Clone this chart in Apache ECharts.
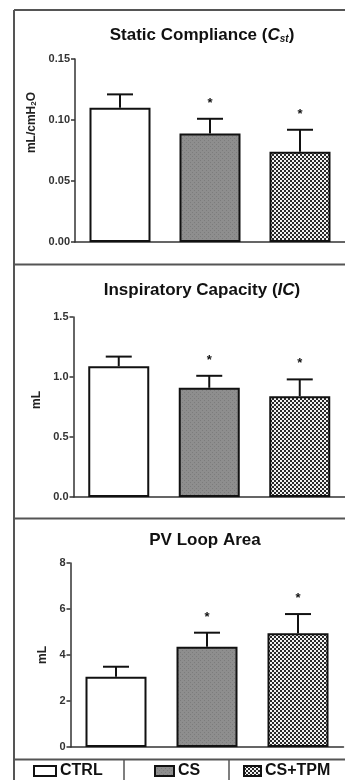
<!DOCTYPE html>
<html>
<head>
<meta charset="utf-8">
<script src="https://cdn.jsdelivr.net/npm/echarts@6/dist/echarts.min.js"></script>
<style>
  html, body { margin: 0; padding: 0; background: #fff; }
  #chart { width: 345px; height: 780px; }
</style>
</head>
<body>
<div id="chart"></div>
<script>
const categories = ['CTRL', 'CS', 'CS+TPM']
const cstMean = [0.110, 0.089, 0.074]
const cstErr = [0.011, 0.012, 0.018]
const icMean = [1.09, 0.91, 0.84]
const icErr = [0.08, 0.10, 0.14]
const pvMean = [3.05, 4.36, 4.95]
const pvErr = [0.44, 0.61, 0.83]
const sigMarks = ['', '*', '*']
const cstTicks = [0, 0.15, 0.05]
const icTicks = [0, 1.5, 0.5]
const pvTicks = [0, 8, 2]

const font = "'Liberation Sans', Arial, sans-serif"
const ink = '#111'
const lineGray = '#555'

// fill patterns for the CS and CS+TPM bars
const makeTile = (size, draw) => {
  const c = document.createElement('canvas')
  c.width = size
  c.height = size
  draw(c.getContext('2d'))
  return c
}
const csTile = makeTile(4, ctx => {
  ctx.fillStyle = '#8e8e8e'
  ctx.fillRect(0, 0, 4, 4)
  ctx.fillStyle = '#7c7c7c'
  ctx.fillRect(0, 0, 1, 1)
  ctx.fillRect(2, 2, 1, 1)
})
const tpmTile = makeTile(4, ctx => {
  ctx.fillStyle = '#2a2a2a'
  ctx.fillRect(0, 0, 4, 4)
  ctx.fillStyle = '#f2f2f2'
  ctx.fillRect(0, 0, 2, 2)
  ctx.fillRect(2, 2, 2, 2)
})
const fills = ['#ffffff', { image: csTile, repeat: 'repeat' }, { image: tpmTile, repeat: 'repeat' }]

const panels = [
  { mean: cstMean, err: cstErr, ticks: cstTicks, digits: 2, left: 75, top: 59, height: 183,
    yName: 'mL/cmH{s|2}O', nameGap: 37, nameShift: 56 },
  { mean: icMean, err: icErr, ticks: icTicks, digits: 1, left: 73.5, top: 317, height: 180,
    yName: 'mL', nameGap: 30, nameShift: 14 },
  { mean: pvMean, err: pvErr, ticks: pvTicks, digits: 0, left: 70.5, top: 563, height: 184,
    yName: 'mL', nameGap: 20, nameShift: 0 }
]

const chart = echarts.init(document.getElementById('chart'))

const series = []
panels.forEach((p, gi) => {
  categories.forEach((name, ci) => {
    series.push({
      name,
      type: 'bar',
      xAxisIndex: gi,
      yAxisIndex: gi,
      stack: 'g' + gi,
      barWidth: 61,
      itemStyle: { color: fills[ci], borderColor: ink, borderWidth: 2 },
      data: categories.map((c, k) => (k === ci ? p.mean[k] : '-'))
    })
  })
  series.push({
    type: 'custom',
    xAxisIndex: gi,
    yAxisIndex: gi,
    z: 5,
    clip: false,
    data: categories.map((c, k) => [k, p.mean[k], p.err[k]]),
    renderItem: (params, api) => {
      const k = api.value(0)
      const m = api.value(1)
      const e = api.value(2)
      const base = api.coord([k, m])
      const top = api.coord([k, m + e])
      const style = { stroke: ink, lineWidth: 2 }
      const children = [
        { type: 'line', shape: { x1: base[0], y1: base[1], x2: top[0], y2: top[1] }, style },
        { type: 'line', shape: { x1: top[0] - 13, y1: top[1], x2: top[0] + 13, y2: top[1] }, style }
      ]
      if (sigMarks[params.dataIndex]) {
        children.push({
          type: 'text',
          style: {
            text: sigMarks[params.dataIndex], x: top[0], y: top[1] - 9,
            align: 'center', verticalAlign: 'bottom',
            font: 'bold 13px ' + font, fill: ink
          }
        })
      }
      return { type: 'group', children }
    }
  })
})

const legendCells = [
  { name: 'CTRL', left: 33, icon: 22 },
  { name: 'CS', left: 154, icon: 19 },
  { name: 'CS+TPM', left: 243, icon: 17 }
]

chart.setOption({
  animation: false,
  backgroundColor: '#fff',
  title: [
    { text: '{b|Static Compliance (}{i|C}{s|st}{b|)}', left: 197, top: 21 },
    { text: '{b|Inspiratory Capacity (}{i|IC}{b|)}', left: 197, top: 277 },
    { text: '{b|PV Loop Area}', left: 200, top: 527 }
  ].map(t => ({
    ...t,
    textAlign: 'center',
    textStyle: {
      rich: {
        b: { fontFamily: font, fontWeight: 'bold', fontSize: 17, color: ink },
        i: { fontFamily: font, fontWeight: 'bold', fontStyle: 'italic', fontSize: 17, color: ink },
        s: { fontFamily: font, fontWeight: 'bold', fontStyle: 'italic', fontSize: 10, color: ink, padding: [8, 0, 0, 0] }
      }
    }
  })),
  legend: legendCells.map(c => ({
    data: [c.name],
    left: c.left,
    top: 763,
    padding: 0,
    itemWidth: c.icon,
    itemHeight: 10,
    itemGap: 0,
    icon: 'rect',
    selectedMode: false,
    textStyle: { fontFamily: font, fontWeight: 'bold', fontSize: 16, color: ink, padding: [0, 0, 0, -1] }
  })),
  grid: panels.map(p => ({ left: p.left, top: p.top, height: p.height, width: 273 })),
  xAxis: panels.map((p, gi) => ({
    type: 'category',
    gridIndex: gi,
    data: categories,
    axisTick: { show: false },
    axisLabel: { show: false },
    axisLine: { lineStyle: { color: '#333', width: 1.5 } }
  })),
  yAxis: panels.map((p, gi) => ({
    type: 'value',
    gridIndex: gi,
    min: p.ticks[0],
    max: p.ticks[1],
    interval: p.ticks[2],
    name: p.yName,
    nameLocation: 'middle',
    nameGap: p.nameGap,
    nameRotate: 90,
    nameTextStyle: {
      fontFamily: font, fontWeight: 'bold', fontSize: 12, color: '#222',
      padding: [0, 0, 0, p.nameShift],
      rich: { s: { fontFamily: font, fontWeight: 'bold', fontSize: 8, color: '#222', padding: [5, 0, 0, 0] } }
    },
    splitLine: { show: false },
    axisLine: { show: true, lineStyle: { color: '#333', width: 1.5 } },
    axisTick: { show: true, length: 4, lineStyle: { color: '#333', width: 1.5 } },
    axisLabel: {
      margin: 5,
      fontFamily: font, fontWeight: 'bold', fontSize: 11, color: '#333',
      formatter: v => v.toFixed(p.digits)
    }
  })),
  graphic: [
    { type: 'line', shape: { x1: 14, y1: 10, x2: 14, y2: 780 }, style: { stroke: lineGray, lineWidth: 2 } },
    { type: 'line', shape: { x1: 14, y1: 10, x2: 345, y2: 10 }, style: { stroke: lineGray, lineWidth: 2 } },
    { type: 'line', shape: { x1: 14, y1: 264.5, x2: 345, y2: 264.5 }, style: { stroke: lineGray, lineWidth: 2 } },
    { type: 'line', shape: { x1: 14, y1: 518.5, x2: 345, y2: 518.5 }, style: { stroke: lineGray, lineWidth: 2 } },
    { type: 'line', shape: { x1: 14, y1: 759.5, x2: 345, y2: 759.5 }, style: { stroke: lineGray, lineWidth: 2 } },
    { type: 'line', shape: { x1: 124, y1: 759.5, x2: 124, y2: 780 }, style: { stroke: lineGray, lineWidth: 1.5 } },
    { type: 'line', shape: { x1: 229, y1: 759.5, x2: 229, y2: 780 }, style: { stroke: lineGray, lineWidth: 1.5 } }
  ],
  series
})
</script>
</body>
</html>
